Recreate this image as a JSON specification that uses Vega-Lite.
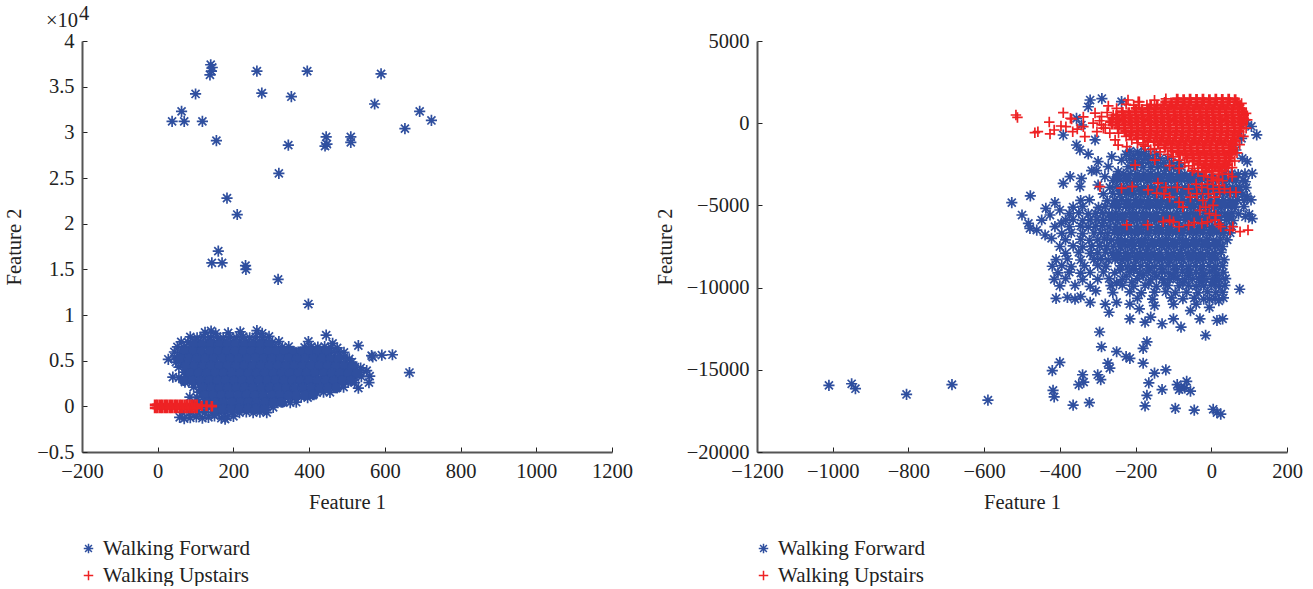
{"$schema":"https://vega.github.io/schema/vega-lite/v6.json","padding":{"left":4,"top":4,"right":0,"bottom":0},"background":"white","spacing":22,
"config":{"view":{"stroke":null},"font":"Liberation Serif","axis":{"grid":false,"labelFlush":false,"domainColor":"#555555","domainWidth":2,"tickColor":"#222222","tickWidth":1,"tickSize":-5,"labelFont":"Liberation Serif","labelFontSize":20.5,"labelColor":"#222222","titleFont":"Liberation Serif","titleFontSize":20.5,"titleFontWeight":"normal","titleColor":"#222222"},"legend":{"orient":"none","title":null,"labelFont":"Liberation Serif","labelFontSize":21,"labelColor":"#222222","symbolStrokeWidth":1.5,"symbolSize":90,"rowPadding":5,"labelOffset":4}},
"resolve":{"scale":{"color":"independent","shape":"independent"}},
"datasets":{
"lb":[{"x":38,"y":31200},{"x":63,"y":32300},{"x":70,"y":31200},{"x":100,"y":34200},{"x":118,"y":31200},{"x":138,"y":36300},{"x":142,"y":36700},{"x":140,"y":37400},{"x":144,"y":37100},{"x":155,"y":29100},{"x":262,"y":36700},{"x":275,"y":34300},{"x":353,"y":33900},{"x":395,"y":36700},{"x":345,"y":28600},{"x":445,"y":29500},{"x":442,"y":28500},{"x":447,"y":28700},{"x":510,"y":29500},{"x":510,"y":28900},{"x":573,"y":33100},{"x":590,"y":36400},{"x":653,"y":30400},{"x":692,"y":32300},{"x":723,"y":31300},{"x":320,"y":25500},{"x":183,"y":22800},{"x":210,"y":21000},{"x":160,"y":17000},{"x":143,"y":15700},{"x":170,"y":15700},{"x":232,"y":15400},{"x":233,"y":15000},{"x":318,"y":13900},{"x":398,"y":11200},{"x":665,"y":3700},{"x":620,"y":5650},{"x":592,"y":5600},{"x":565,"y":5550},{"x":568,"y":5400},{"x":530,"y":6650},{"x":445,"y":7800},{"x":560,"y":3300},{"x":552,"y":3900},{"x":558,"y":2600},{"x":530,"y":2000},
{"x":125,"y":8100},{"x":141,"y":8250},{"x":153,"y":8000},{"x":218,"y":8150},{"x":262,"y":8300},{"x":276,"y":8000},{"x":186,"y":8050},
{"x":86,"y":7600},{"x":104,"y":7500},{"x":121,"y":7650},{"x":139,"y":7550},{"x":157,"y":7620},{"x":173,"y":7500},{"x":191,"y":7600},{"x":208,"y":7520},{"x":226,"y":7640},{"x":243,"y":7510},{"x":259,"y":7600},{"x":277,"y":7550},{"x":294,"y":7650},
{"x":62,"y":7050},{"x":80,"y":7000},{"x":96,"y":7100},{"x":113,"y":7020},{"x":131,"y":7090},{"x":148,"y":7000},{"x":165,"y":7060},{"x":182,"y":7100},{"x":200,"y":7000},{"x":217,"y":7080},{"x":234,"y":7020},{"x":252,"y":7100},{"x":269,"y":7000},{"x":286,"y":7070},{"x":303,"y":7010},{"x":320,"y":7100},{"x":398,"y":7100},{"x":462,"y":6900},
{"x":52,"y":6500},{"x":70,"y":6450},{"x":88,"y":6550},{"x":105,"y":6480},{"x":122,"y":6530},{"x":139,"y":6450},{"x":156,"y":6560},{"x":174,"y":6500},{"x":191,"y":6470},{"x":208,"y":6540},{"x":225,"y":6450},{"x":243,"y":6530},{"x":260,"y":6490},{"x":277,"y":6560},{"x":294,"y":6450},{"x":311,"y":6520},{"x":329,"y":6480},{"x":346,"y":6550},{"x":388,"y":6450},{"x":406,"y":6540},{"x":423,"y":6480},{"x":441,"y":6550},{"x":458,"y":6450},{"x":474,"y":6400},
{"x":44,"y":5950},{"x":61,"y":5900},{"x":79,"y":6000},{"x":96,"y":5930},{"x":113,"y":5980},{"x":130,"y":5900},{"x":148,"y":5990},{"x":165,"y":5940},{"x":182,"y":5910},{"x":199,"y":5980},{"x":216,"y":5900},{"x":234,"y":5970},{"x":251,"y":5930},{"x":268,"y":6000},{"x":285,"y":5900},{"x":302,"y":5960},{"x":320,"y":5920},{"x":337,"y":5990},{"x":354,"y":5900},{"x":371,"y":5950},{"x":388,"y":5920},{"x":406,"y":5990},{"x":423,"y":5900},{"x":440,"y":5960},{"x":458,"y":5930},{"x":475,"y":5980},{"x":492,"y":5900},
{"x":28,"y":5150},{"x":44,"y":5400},{"x":62,"y":5350},{"x":79,"y":5450},{"x":96,"y":5380},{"x":113,"y":5430},{"x":131,"y":5350},{"x":148,"y":5440},{"x":165,"y":5390},{"x":182,"y":5360},{"x":200,"y":5430},{"x":217,"y":5350},{"x":234,"y":5420},{"x":251,"y":5380},{"x":268,"y":5450},{"x":286,"y":5350},{"x":303,"y":5410},{"x":320,"y":5370},{"x":337,"y":5440},{"x":354,"y":5350},{"x":372,"y":5400},{"x":389,"y":5370},{"x":406,"y":5440},{"x":423,"y":5350},{"x":440,"y":5410},{"x":458,"y":5380},{"x":475,"y":5430},{"x":492,"y":5350},{"x":506,"y":5200},
{"x":48,"y":4850},{"x":66,"y":4800},{"x":83,"y":4900},{"x":100,"y":4830},{"x":118,"y":4880},{"x":135,"y":4800},{"x":152,"y":4890},{"x":169,"y":4840},{"x":186,"y":4810},{"x":204,"y":4880},{"x":221,"y":4800},{"x":238,"y":4870},{"x":255,"y":4830},{"x":272,"y":4900},{"x":290,"y":4800},{"x":307,"y":4860},{"x":324,"y":4820},{"x":341,"y":4890},{"x":358,"y":4800},{"x":376,"y":4850},{"x":393,"y":4820},{"x":410,"y":4890},{"x":427,"y":4800},{"x":444,"y":4860},{"x":462,"y":4830},{"x":479,"y":4880},{"x":496,"y":4800},{"x":513,"y":4850},
{"x":56,"y":4300},{"x":74,"y":4250},{"x":91,"y":4350},{"x":108,"y":4280},{"x":126,"y":4330},{"x":143,"y":4250},{"x":160,"y":4340},{"x":177,"y":4290},{"x":194,"y":4260},{"x":212,"y":4330},{"x":229,"y":4250},{"x":246,"y":4320},{"x":263,"y":4280},{"x":280,"y":4350},{"x":298,"y":4250},{"x":315,"y":4310},{"x":332,"y":4270},{"x":349,"y":4340},{"x":366,"y":4250},{"x":384,"y":4300},{"x":401,"y":4270},{"x":418,"y":4340},{"x":435,"y":4250},{"x":452,"y":4310},{"x":470,"y":4280},{"x":487,"y":4330},{"x":504,"y":4250},{"x":521,"y":4300},{"x":536,"y":4200},
{"x":70,"y":3750},{"x":88,"y":3700},{"x":105,"y":3800},{"x":122,"y":3730},{"x":140,"y":3780},{"x":157,"y":3700},{"x":174,"y":3790},{"x":191,"y":3740},{"x":208,"y":3710},{"x":226,"y":3780},{"x":243,"y":3700},{"x":260,"y":3770},{"x":277,"y":3730},{"x":294,"y":3800},{"x":312,"y":3700},{"x":329,"y":3760},{"x":346,"y":3720},{"x":363,"y":3790},{"x":380,"y":3700},{"x":398,"y":3750},{"x":415,"y":3720},{"x":432,"y":3790},{"x":449,"y":3700},{"x":466,"y":3760},{"x":484,"y":3730},{"x":501,"y":3780},{"x":518,"y":3700},{"x":535,"y":3750},
{"x":40,"y":3200},{"x":56,"y":3150},{"x":74,"y":3250},{"x":91,"y":3180},{"x":109,"y":3230},{"x":126,"y":3150},{"x":143,"y":3240},{"x":160,"y":3190},{"x":177,"y":3160},{"x":195,"y":3230},{"x":212,"y":3150},{"x":229,"y":3220},{"x":246,"y":3180},{"x":263,"y":3250},{"x":281,"y":3150},{"x":298,"y":3210},{"x":315,"y":3170},{"x":332,"y":3240},{"x":349,"y":3150},{"x":367,"y":3200},{"x":384,"y":3170},{"x":401,"y":3240},{"x":418,"y":3150},{"x":435,"y":3210},{"x":453,"y":3180},{"x":470,"y":3230},{"x":487,"y":3150},{"x":504,"y":3200},{"x":521,"y":3170},{"x":538,"y":3240},
{"x":72,"y":2650},{"x":90,"y":2600},{"x":107,"y":2700},{"x":124,"y":2630},{"x":142,"y":2680},{"x":159,"y":2600},{"x":176,"y":2690},{"x":193,"y":2640},{"x":210,"y":2610},{"x":228,"y":2680},{"x":245,"y":2600},{"x":262,"y":2670},{"x":279,"y":2630},{"x":296,"y":2700},{"x":314,"y":2600},{"x":331,"y":2660},{"x":348,"y":2620},{"x":365,"y":2690},{"x":382,"y":2600},{"x":400,"y":2650},{"x":417,"y":2620},{"x":434,"y":2690},{"x":451,"y":2600},{"x":468,"y":2660},{"x":486,"y":2630},{"x":503,"y":2680},{"x":520,"y":2600},
{"x":95,"y":2100},{"x":112,"y":2050},{"x":130,"y":2150},{"x":147,"y":2080},{"x":164,"y":2130},{"x":181,"y":2050},{"x":198,"y":2140},{"x":216,"y":2090},{"x":233,"y":2060},{"x":250,"y":2130},{"x":267,"y":2050},{"x":284,"y":2120},{"x":302,"y":2080},{"x":319,"y":2150},{"x":336,"y":2050},{"x":353,"y":2110},{"x":370,"y":2070},{"x":388,"y":2140},{"x":405,"y":2050},{"x":422,"y":2100},{"x":439,"y":2070},{"x":456,"y":2140},{"x":474,"y":2050},{"x":491,"y":2110},
{"x":110,"y":1550},{"x":128,"y":1500},{"x":145,"y":1600},{"x":162,"y":1530},{"x":180,"y":1580},{"x":197,"y":1500},{"x":214,"y":1590},{"x":231,"y":1540},{"x":248,"y":1510},{"x":266,"y":1580},{"x":283,"y":1500},{"x":300,"y":1570},{"x":317,"y":1530},{"x":334,"y":1600},{"x":352,"y":1500},{"x":369,"y":1560},{"x":386,"y":1520},{"x":403,"y":1590},{"x":420,"y":1500},{"x":438,"y":1550},{"x":455,"y":1520},
{"x":85,"y":1000},{"x":104,"y":950},{"x":121,"y":1050},{"x":138,"y":980},{"x":156,"y":1030},{"x":173,"y":950},{"x":190,"y":1040},{"x":207,"y":990},{"x":224,"y":960},{"x":242,"y":1030},{"x":259,"y":950},{"x":276,"y":1020},{"x":293,"y":980},{"x":310,"y":1050},{"x":328,"y":950},{"x":345,"y":1010},{"x":362,"y":970},{"x":379,"y":1040},{"x":396,"y":950},
{"x":108,"y":450},{"x":126,"y":400},{"x":143,"y":500},{"x":160,"y":430},{"x":178,"y":480},{"x":195,"y":400},{"x":212,"y":490},{"x":229,"y":440},{"x":246,"y":410},{"x":264,"y":480},{"x":281,"y":400},{"x":298,"y":470},{"x":315,"y":430},{"x":332,"y":500},{"x":350,"y":400},{"x":366,"y":450},
{"x":100,"y":-100},{"x":116,"y":-150},{"x":133,"y":-50},{"x":150,"y":-120},{"x":168,"y":-70},{"x":185,"y":-150},{"x":202,"y":-60},{"x":219,"y":-110},{"x":236,"y":-140},{"x":254,"y":-70},{"x":271,"y":-150},{"x":288,"y":-80},{"x":305,"y":-120},
{"x":65,"y":-650},{"x":85,"y":-700},{"x":105,"y":-600},{"x":125,"y":-680},{"x":144,"y":-620},{"x":162,"y":-700},{"x":180,"y":-610},{"x":198,"y":-660},{"x":216,"y":-690},{"x":234,"y":-620},{"x":252,"y":-700},{"x":270,"y":-630},{"x":288,"y":-680},
{"x":58,"y":-1200},{"x":70,"y":-1350},{"x":86,"y":-1250},{"x":102,"y":-1150},{"x":118,"y":-1300},{"x":134,"y":-1200},{"x":150,"y":-1050},{"x":168,"y":-1300},{"x":184,"y":-1150},{"x":178,"y":-1400},{"x":200,"y":-1100}],
"lbc":[{"x":95,"y":6800},{"x":118,"y":6780},{"x":140,"y":6820},{"x":162,"y":6800},{"x":184,"y":6790},{"x":206,"y":6820},{"x":228,"y":6800},{"x":250,"y":6780},{"x":272,"y":6810},{"x":294,"y":6800},
{"x":72,"y":6000},{"x":94,"y":6020},{"x":116,"y":5990},{"x":138,"y":6010},{"x":160,"y":6000},{"x":182,"y":6030},{"x":204,"y":5990},{"x":226,"y":6010},{"x":248,"y":6000},{"x":270,"y":6020},{"x":292,"y":5990},{"x":314,"y":6010},{"x":336,"y":6000},{"x":358,"y":6030},{"x":380,"y":5990},{"x":402,"y":6010},{"x":424,"y":6000},{"x":446,"y":6020},
{"x":60,"y":5200},{"x":82,"y":5220},{"x":104,"y":5190},{"x":126,"y":5210},{"x":148,"y":5200},{"x":170,"y":5230},{"x":192,"y":5190},{"x":214,"y":5210},{"x":236,"y":5200},{"x":258,"y":5220},{"x":280,"y":5190},{"x":302,"y":5210},{"x":324,"y":5200},{"x":346,"y":5230},{"x":368,"y":5190},{"x":390,"y":5210},{"x":412,"y":5200},{"x":434,"y":5220},{"x":456,"y":5190},{"x":478,"y":5210},
{"x":75,"y":4400},{"x":97,"y":4420},{"x":119,"y":4390},{"x":141,"y":4410},{"x":163,"y":4400},{"x":185,"y":4430},{"x":207,"y":4390},{"x":229,"y":4410},{"x":251,"y":4400},{"x":273,"y":4420},{"x":295,"y":4390},{"x":317,"y":4410},{"x":339,"y":4400},{"x":361,"y":4430},{"x":383,"y":4390},{"x":405,"y":4410},{"x":427,"y":4400},{"x":449,"y":4420},{"x":471,"y":4390},{"x":493,"y":4410},{"x":515,"y":4400},
{"x":86,"y":3600},{"x":108,"y":3620},{"x":130,"y":3590},{"x":152,"y":3610},{"x":174,"y":3600},{"x":196,"y":3630},{"x":218,"y":3590},{"x":240,"y":3610},{"x":262,"y":3600},{"x":284,"y":3620},{"x":306,"y":3590},{"x":328,"y":3610},{"x":350,"y":3600},{"x":372,"y":3630},{"x":394,"y":3590},{"x":416,"y":3610},{"x":438,"y":3600},{"x":460,"y":3620},{"x":482,"y":3590},{"x":504,"y":3610},{"x":526,"y":3600},
{"x":70,"y":2800},{"x":92,"y":2820},{"x":114,"y":2790},{"x":136,"y":2810},{"x":158,"y":2800},{"x":180,"y":2830},{"x":202,"y":2790},{"x":224,"y":2810},{"x":246,"y":2800},{"x":268,"y":2820},{"x":290,"y":2790},{"x":312,"y":2810},{"x":334,"y":2800},{"x":356,"y":2830},{"x":378,"y":2790},{"x":400,"y":2810},{"x":422,"y":2800},{"x":444,"y":2820},{"x":466,"y":2790},{"x":488,"y":2810},{"x":510,"y":2800},
{"x":120,"y":2000},{"x":142,"y":2020},{"x":164,"y":1990},{"x":186,"y":2010},{"x":208,"y":2000},{"x":230,"y":2030},{"x":252,"y":1990},{"x":274,"y":2010},{"x":296,"y":2000},{"x":318,"y":2020},{"x":340,"y":1990},{"x":362,"y":2010},{"x":384,"y":2000},{"x":406,"y":2030},{"x":428,"y":1990},{"x":450,"y":2010},{"x":472,"y":2000},
{"x":125,"y":1200},{"x":147,"y":1220},{"x":169,"y":1190},{"x":191,"y":1210},{"x":213,"y":1200},{"x":235,"y":1230},{"x":257,"y":1190},{"x":279,"y":1210},{"x":301,"y":1200},{"x":323,"y":1220},{"x":345,"y":1190},{"x":367,"y":1210},{"x":389,"y":1200},{"x":411,"y":1230},
{"x":130,"y":400},{"x":152,"y":420},{"x":174,"y":390},{"x":196,"y":410},{"x":218,"y":400},{"x":240,"y":430},{"x":262,"y":390},{"x":284,"y":410},{"x":306,"y":400},{"x":328,"y":420},
{"x":150,"y":-300},{"x":172,"y":-280},{"x":194,"y":-310},{"x":216,"y":-290},{"x":238,"y":-300},{"x":260,"y":-270},{"x":282,"y":-310}],
"lr":[{"x":-7,"y":170},{"x":-1,"y":170},{"x":6,"y":170},{"x":12,"y":170},{"x":19,"y":170},{"x":25,"y":170},{"x":32,"y":170},{"x":38,"y":170},{"x":45,"y":170},{"x":51,"y":170},{"x":58,"y":170},{"x":64,"y":170},{"x":71,"y":170},{"x":77,"y":170},{"x":84,"y":170},{"x":90,"y":170},{"x":97,"y":170},{"x":103,"y":170},{"x":-7,"y":-170},{"x":-1,"y":-170},{"x":6,"y":-170},{"x":12,"y":-170},{"x":19,"y":-170},{"x":25,"y":-170},{"x":32,"y":-170},{"x":38,"y":-170},{"x":45,"y":-170},{"x":51,"y":-170},{"x":58,"y":-170},{"x":64,"y":-170},{"x":71,"y":-170},{"x":77,"y":-170},{"x":84,"y":-170},{"x":90,"y":-170},{"x":97,"y":-170},{"x":103,"y":-170},{"x":116,"y":50},{"x":129,"y":60},{"x":143,"y":20}],
"rb":[{"x":-1010,"y":-15950},{"x":-950,"y":-15850},{"x":-940,"y":-16150},{"x":-805,"y":-16500},{"x":-685,"y":-15900},{"x":-590,"y":-16850},{"x":-420,"y":-15050},{"x":-400,"y":-14550},{"x":-418,"y":-16250},{"x":-415,"y":-16650},{"x":-365,"y":-17150},{"x":-322,"y":-17000},{"x":-350,"y":-15900},{"x":-337,"y":-15750},{"x":-340,"y":-15300},{"x":-292,"y":-15600},{"x":-300,"y":-15300},{"x":-268,"y":-14900},{"x":-273,"y":-14600},{"x":-250,"y":-13900},{"x":-225,"y":-14200},{"x":-215,"y":-14300},{"x":-180,"y":-13700},{"x":-170,"y":-13300},{"x":-180,"y":-14600},{"x":-150,"y":-15200},{"x":-120,"y":-15000},{"x":-165,"y":-15800},{"x":-130,"y":-16200},{"x":-170,"y":-16550},{"x":-175,"y":-17200},{"x":-90,"y":-15900},{"x":-80,"y":-16100},{"x":-70,"y":-16100},{"x":-65,"y":-15700},{"x":-85,"y":-16200},{"x":-55,"y":-16300},{"x":-95,"y":-17350},{"x":-45,"y":-17450},{"x":5,"y":-17400},{"x":15,"y":-17600},{"x":25,"y":-17700},{"x":-15,"y":-12900},{"x":-295,"y":-12700},{"x":-290,"y":-13600},{"x":-215,"y":-11900},{"x":-130,"y":-12200},{"x":-160,"y":-11800},{"x":-175,"y":-12100},{"x":-100,"y":-11900},{"x":-80,"y":-12400},{"x":-30,"y":-11900},{"x":15,"y":-12000},{"x":30,"y":-11900},{"x":-320,"y":-10900},{"x":-280,"y":-11000},{"x":-250,"y":-10900},{"x":-270,"y":-11500},{"x":-215,"y":-11000},{"x":-150,"y":-11100},{"x":-190,"y":-11300},{"x":-100,"y":-11000},{"x":-55,"y":-11400},{"x":-40,"y":-11000},{"x":-5,"y":-11200},{"x":20,"y":-10800},{"x":-5,"y":-10700},{"x":75,"y":-10100},{"x":-380,"y":-10600},{"x":-360,"y":-10700},{"x":-345,"y":-10550},{"x":-305,"y":-10200},{"x":-410,"y":-10650},
{"x":-320,"y":1410},{"x":-289,"y":1500},{"x":-325,"y":1000},{"x":-237,"y":1310},{"x":-356,"y":295},{"x":-391,"y":-717},{"x":-343,"y":-110},{"x":-307,"y":-1020},{"x":-356,"y":-1325},{"x":-347,"y":-1630},{"x":-325,"y":-1875},{"x":-299,"y":-2340},{"x":-263,"y":-2035},{"x":-237,"y":-2240},{"x":-272,"y":-2640},{"x":-316,"y":-2885},{"x":-303,"y":-2885},{"x":-246,"y":-2950},{"x":-281,"y":-3255},{"x":-391,"y":-3660},{"x":-373,"y":-3255},{"x":-343,"y":-3355},{"x":-347,"y":-3860},{"x":-299,"y":-3760},{"x":-527,"y":-4830},{"x":-478,"y":-4425},{"x":-500,"y":-5585},{"x":-437,"y":-5175},{"x":-413,"y":-4830},{"x":-426,"y":-5585},{"x":-400,"y":-5280},{"x":-483,"y":-6090},{"x":-479,"y":-6395},{"x":-461,"y":-6500},{"x":-448,"y":-5890},{"x":-439,"y":-6800},{"x":-422,"y":-7000},{"x":-413,"y":-6290},{"x":-396,"y":-6090},{"x":93,"y":0},{"x":120,"y":-710},{"x":106,"y":-200},{"x":80,"y":-920},{"x":65,"y":-1630},{"x":82,"y":-2135},{"x":95,"y":-2340},{"x":108,"y":-3050},{"x":90,"y":-3560},{"x":95,"y":-4470},{"x":90,"y":-5690},{"x":86,"y":-5080},{"x":108,"y":-5800},{"x":100,"y":-5550},
{"x":-215,"y":-1700},{"x":-195,"y":-1750},{"x":-175,"y":-1720},{"x":-225,"y":-1900},{"x":-205,"y":-1950},{"x":-185,"y":-1880},{"x":-165,"y":-1950},{"x":-145,"y":-1900},{"x":-215,"y":-2150},{"x":-195,"y":-2200},{"x":-175,"y":-2130},{"x":-155,"y":-2180},{"x":-135,"y":-2150},{"x":-115,"y":-2130},{"x":-205,"y":-2400},{"x":-185,"y":-2430},{"x":-165,"y":-2380},{"x":-145,"y":-2420},{"x":-125,"y":-2400},{"x":-105,"y":-2380},{"x":-85,"y":-2430},
{"x":-240,"y":-8920},{"x":-205,"y":-8890},{"x":-165,"y":-8930},{"x":-130,"y":-8880},{"x":-95,"y":-8910},{"x":-60,"y":-8890},{"x":-25,"y":-8930},{"x":8,"y":-8890},{"x":-225,"y":-9300},{"x":-180,"y":-9280},{"x":-145,"y":-9320},{"x":-100,"y":-9300},{"x":-60,"y":-9270},{"x":-22,"y":-9310},{"x":14,"y":-9290},{"x":-250,"y":-9700},{"x":-210,"y":-9680},{"x":-165,"y":-9720},{"x":-125,"y":-9690},{"x":-75,"y":-9700},{"x":-30,"y":-9680},{"x":10,"y":-9710},
{"x":-160,"y":-2700},{"x":-140,"y":-2650},{"x":-120,"y":-2720},{"x":-100,"y":-2680},{"x":-80,"y":-2650},{"x":-200,"y":-2700},{"x":-220,"y":-2650},{"x":-180,"y":-2680},
{"x":-232,"y":-3100},{"x":-214,"y":-3060},{"x":-196,"y":-3120},{"x":-178,"y":-3080},{"x":-160,"y":-3050},{"x":-142,"y":-3110},{"x":-124,"y":-3070},{"x":-106,"y":-3120},{"x":-88,"y":-3060},{"x":-70,"y":-3100},{"x":-52,"y":-3060},{"x":-34,"y":-3120},{"x":35,"y":-3100},{"x":53,"y":-3060},{"x":71,"y":-3120},{"x":89,"y":-3080},
{"x":-260,"y":-3500},{"x":-240,"y":-3460},{"x":-222,"y":-3520},{"x":-204,"y":-3480},{"x":-186,"y":-3450},{"x":-168,"y":-3510},{"x":-150,"y":-3470},{"x":-132,"y":-3520},{"x":-114,"y":-3460},{"x":-96,"y":-3500},{"x":-78,"y":-3460},{"x":-60,"y":-3520},{"x":-42,"y":-3480},{"x":-24,"y":-3450},{"x":-6,"y":-3510},{"x":12,"y":-3470},{"x":30,"y":-3520},{"x":48,"y":-3460},{"x":66,"y":-3500},{"x":84,"y":-3470},
{"x":-268,"y":-3900},{"x":-250,"y":-3860},{"x":-232,"y":-3920},{"x":-214,"y":-3880},{"x":-196,"y":-3850},{"x":-178,"y":-3910},{"x":-160,"y":-3870},{"x":-142,"y":-3920},{"x":-124,"y":-3860},{"x":-106,"y":-3900},{"x":-88,"y":-3860},{"x":-70,"y":-3920},{"x":-52,"y":-3880},{"x":-34,"y":-3850},{"x":-16,"y":-3910},{"x":2,"y":-3870},{"x":20,"y":-3920},{"x":38,"y":-3860},{"x":56,"y":-3900},{"x":74,"y":-3870},{"x":92,"y":-3920},
{"x":-285,"y":-4300},{"x":-260,"y":-4260},{"x":-241,"y":-4320},{"x":-223,"y":-4280},{"x":-205,"y":-4250},{"x":-187,"y":-4310},{"x":-169,"y":-4270},{"x":-151,"y":-4320},{"x":-133,"y":-4260},{"x":-115,"y":-4300},{"x":-97,"y":-4260},{"x":-79,"y":-4320},{"x":-61,"y":-4280},{"x":-43,"y":-4250},{"x":-25,"y":-4310},{"x":-7,"y":-4270},{"x":11,"y":-4320},{"x":29,"y":-4260},{"x":47,"y":-4300},{"x":65,"y":-4270},{"x":83,"y":-4320},
{"x":-345,"y":-4700},{"x":-322,"y":-4660},{"x":-275,"y":-4720},{"x":-255,"y":-4680},{"x":-237,"y":-4650},{"x":-219,"y":-4710},{"x":-201,"y":-4670},{"x":-183,"y":-4720},{"x":-165,"y":-4660},{"x":-147,"y":-4700},{"x":-129,"y":-4660},{"x":-111,"y":-4720},{"x":-93,"y":-4680},{"x":-75,"y":-4650},{"x":-57,"y":-4710},{"x":-39,"y":-4670},{"x":-21,"y":-4720},{"x":-3,"y":-4660},{"x":15,"y":-4700},{"x":33,"y":-4670},{"x":51,"y":-4720},{"x":69,"y":-4660},{"x":87,"y":-4700},{"x":105,"y":-4670},
{"x":-365,"y":-5100},{"x":-340,"y":-5060},{"x":-298,"y":-5120},{"x":-280,"y":-5080},{"x":-262,"y":-5050},{"x":-244,"y":-5110},{"x":-226,"y":-5070},{"x":-208,"y":-5120},{"x":-190,"y":-5060},{"x":-172,"y":-5100},{"x":-154,"y":-5060},{"x":-136,"y":-5120},{"x":-118,"y":-5080},{"x":-100,"y":-5050},{"x":-82,"y":-5110},{"x":-64,"y":-5070},{"x":-46,"y":-5120},{"x":-28,"y":-5060},{"x":-10,"y":-5100},{"x":8,"y":-5070},{"x":26,"y":-5120},{"x":44,"y":-5060},{"x":62,"y":-5100},
{"x":-375,"y":-5500},{"x":-350,"y":-5460},{"x":-325,"y":-5520},{"x":-306,"y":-5480},{"x":-288,"y":-5450},{"x":-270,"y":-5510},{"x":-252,"y":-5470},{"x":-234,"y":-5520},{"x":-216,"y":-5460},{"x":-198,"y":-5500},{"x":-180,"y":-5460},{"x":-162,"y":-5520},{"x":-144,"y":-5480},{"x":-126,"y":-5450},{"x":-108,"y":-5510},{"x":-90,"y":-5470},{"x":-72,"y":-5520},{"x":-54,"y":-5460},{"x":-36,"y":-5500},{"x":-18,"y":-5470},{"x":0,"y":-5520},{"x":18,"y":-5460},{"x":36,"y":-5500},{"x":54,"y":-5470},{"x":72,"y":-5520},
{"x":-385,"y":-5900},{"x":-365,"y":-5860},{"x":-340,"y":-5920},{"x":-320,"y":-5880},{"x":-302,"y":-5850},{"x":-284,"y":-5910},{"x":-266,"y":-5870},{"x":-248,"y":-5920},{"x":-230,"y":-5860},{"x":-212,"y":-5900},{"x":-194,"y":-5860},{"x":-176,"y":-5920},{"x":-158,"y":-5880},{"x":-140,"y":-5850},{"x":-122,"y":-5910},{"x":-104,"y":-5870},{"x":-86,"y":-5920},{"x":-68,"y":-5860},{"x":-50,"y":-5900},{"x":-32,"y":-5870},{"x":-14,"y":-5920},{"x":4,"y":-5860},{"x":22,"y":-5900},{"x":40,"y":-5870},{"x":58,"y":-5920},
{"x":-375,"y":-6300},{"x":-345,"y":-6260},{"x":-325,"y":-6320},{"x":-306,"y":-6280},{"x":-288,"y":-6250},{"x":-270,"y":-6310},{"x":-252,"y":-6270},{"x":-234,"y":-6320},{"x":-216,"y":-6260},{"x":-198,"y":-6300},{"x":-180,"y":-6260},{"x":-162,"y":-6320},{"x":-144,"y":-6280},{"x":-126,"y":-6250},{"x":-108,"y":-6310},{"x":-90,"y":-6270},{"x":-72,"y":-6320},{"x":-54,"y":-6260},{"x":-36,"y":-6300},{"x":-18,"y":-6270},{"x":0,"y":-6320},{"x":18,"y":-6260},{"x":36,"y":-6300},{"x":54,"y":-6270},
{"x":-395,"y":-6700},{"x":-370,"y":-6660},{"x":-340,"y":-6720},{"x":-310,"y":-6680},{"x":-292,"y":-6650},{"x":-274,"y":-6710},{"x":-256,"y":-6670},{"x":-238,"y":-6720},{"x":-220,"y":-6660},{"x":-202,"y":-6700},{"x":-184,"y":-6660},{"x":-166,"y":-6720},{"x":-148,"y":-6680},{"x":-130,"y":-6650},{"x":-112,"y":-6710},{"x":-94,"y":-6670},{"x":-76,"y":-6720},{"x":-58,"y":-6660},{"x":-40,"y":-6700},{"x":-22,"y":-6670},{"x":-4,"y":-6720},{"x":14,"y":-6660},{"x":32,"y":-6700},{"x":50,"y":-6670},
{"x":-385,"y":-7100},{"x":-345,"y":-7060},{"x":-322,"y":-7120},{"x":-300,"y":-7080},{"x":-282,"y":-7050},{"x":-264,"y":-7110},{"x":-246,"y":-7070},{"x":-228,"y":-7120},{"x":-210,"y":-7060},{"x":-192,"y":-7100},{"x":-174,"y":-7060},{"x":-156,"y":-7120},{"x":-138,"y":-7080},{"x":-120,"y":-7050},{"x":-102,"y":-7110},{"x":-84,"y":-7070},{"x":-66,"y":-7120},{"x":-48,"y":-7060},{"x":-30,"y":-7100},{"x":-12,"y":-7070},{"x":6,"y":-7120},{"x":24,"y":-7060},{"x":42,"y":-7100},
{"x":-400,"y":-7500},{"x":-365,"y":-7460},{"x":-340,"y":-7520},{"x":-316,"y":-7480},{"x":-295,"y":-7450},{"x":-276,"y":-7510},{"x":-258,"y":-7470},{"x":-240,"y":-7520},{"x":-222,"y":-7460},{"x":-204,"y":-7500},{"x":-186,"y":-7460},{"x":-168,"y":-7520},{"x":-150,"y":-7480},{"x":-132,"y":-7450},{"x":-114,"y":-7510},{"x":-96,"y":-7470},{"x":-78,"y":-7520},{"x":-60,"y":-7460},{"x":-42,"y":-7500},{"x":-24,"y":-7470},{"x":-6,"y":-7520},{"x":12,"y":-7460},{"x":30,"y":-7500},
{"x":-385,"y":-7900},{"x":-350,"y":-7860},{"x":-320,"y":-7920},{"x":-300,"y":-7880},{"x":-280,"y":-7850},{"x":-262,"y":-7910},{"x":-244,"y":-7870},{"x":-226,"y":-7920},{"x":-208,"y":-7860},{"x":-190,"y":-7900},{"x":-172,"y":-7860},{"x":-154,"y":-7920},{"x":-136,"y":-7880},{"x":-118,"y":-7850},{"x":-100,"y":-7910},{"x":-82,"y":-7870},{"x":-64,"y":-7920},{"x":-46,"y":-7860},{"x":-28,"y":-7900},{"x":-10,"y":-7870},{"x":8,"y":-7920},{"x":26,"y":-7860},
{"x":-410,"y":-8300},{"x":-380,"y":-8260},{"x":-345,"y":-8320},{"x":-310,"y":-8280},{"x":-292,"y":-8250},{"x":-272,"y":-8310},{"x":-254,"y":-8270},{"x":-236,"y":-8320},{"x":-218,"y":-8260},{"x":-200,"y":-8300},{"x":-182,"y":-8260},{"x":-164,"y":-8320},{"x":-146,"y":-8280},{"x":-128,"y":-8250},{"x":-110,"y":-8310},{"x":-92,"y":-8270},{"x":-74,"y":-8320},{"x":-56,"y":-8260},{"x":-38,"y":-8300},{"x":-20,"y":-8270},{"x":-2,"y":-8320},{"x":16,"y":-8260},{"x":34,"y":-8300},
{"x":-420,"y":-8700},{"x":-395,"y":-8660},{"x":-370,"y":-8720},{"x":-335,"y":-8680},{"x":-300,"y":-8650},{"x":-278,"y":-8710},{"x":-240,"y":-8670},{"x":-222,"y":-8720},{"x":-204,"y":-8660},{"x":-186,"y":-8700},{"x":-168,"y":-8660},{"x":-150,"y":-8720},{"x":-132,"y":-8680},{"x":-114,"y":-8650},{"x":-96,"y":-8710},{"x":-78,"y":-8670},{"x":-60,"y":-8720},{"x":-42,"y":-8660},{"x":-24,"y":-8700},{"x":-6,"y":-8670},{"x":12,"y":-8720},{"x":30,"y":-8660},
{"x":-405,"y":-9100},{"x":-375,"y":-9060},{"x":-345,"y":-9120},{"x":-320,"y":-9080},{"x":-285,"y":-9050},{"x":-255,"y":-9110},{"x":-215,"y":-9070},{"x":-190,"y":-9120},{"x":-170,"y":-9060},{"x":-150,"y":-9100},{"x":-130,"y":-9060},{"x":-112,"y":-9120},{"x":-94,"y":-9080},{"x":-76,"y":-9050},{"x":-58,"y":-9110},{"x":-40,"y":-9070},{"x":-22,"y":-9120},{"x":-4,"y":-9060},{"x":14,"y":-9100},{"x":32,"y":-9070},
{"x":-415,"y":-9500},{"x":-385,"y":-9460},{"x":-340,"y":-9520},{"x":-300,"y":-9480},{"x":-270,"y":-9450},{"x":-235,"y":-9510},{"x":-195,"y":-9470},{"x":-160,"y":-9520},{"x":-130,"y":-9460},{"x":-110,"y":-9500},{"x":-90,"y":-9460},{"x":-70,"y":-9520},{"x":-50,"y":-9480},{"x":-32,"y":-9450},{"x":-14,"y":-9510},{"x":4,"y":-9470},{"x":22,"y":-9520},{"x":38,"y":-9460},
{"x":-400,"y":-9900},{"x":-360,"y":-9860},{"x":-320,"y":-9920},{"x":-265,"y":-9880},{"x":-235,"y":-9850},{"x":-205,"y":-9910},{"x":-175,"y":-9870},{"x":-145,"y":-9920},{"x":-115,"y":-9860},{"x":-85,"y":-9900},{"x":-60,"y":-9860},{"x":-40,"y":-9920},{"x":-20,"y":-9880},{"x":0,"y":-9850},{"x":20,"y":-9910},{"x":36,"y":-9870},
{"x":-260,"y":-10300},{"x":-215,"y":-10260},{"x":-185,"y":-10320},{"x":-150,"y":-10280},{"x":-120,"y":-10250},{"x":-95,"y":-10310},{"x":-65,"y":-10270},{"x":-35,"y":-10320},{"x":-10,"y":-10260},{"x":12,"y":-10300},{"x":30,"y":-10280},
{"x":-195,"y":-10650},{"x":-155,"y":-10700},{"x":-105,"y":-10620},{"x":-75,"y":-10680},{"x":-45,"y":-10640},{"x":-20,"y":-10700},{"x":10,"y":-10650},{"x":32,"y":-10620}],
"rbc":[{"x":-250,"y":-3300},{"x":-222,"y":-3320},{"x":-194,"y":-3290},{"x":-166,"y":-3310},{"x":-138,"y":-3300},{"x":-110,"y":-3330},{"x":-82,"y":-3290},{"x":-54,"y":-3310},{"x":-26,"y":-3300},{"x":2,"y":-3320},{"x":30,"y":-3290},{"x":58,"y":-3310},
{"x":-238,"y":-4100},{"x":-210,"y":-4120},{"x":-182,"y":-4090},{"x":-154,"y":-4110},{"x":-126,"y":-4100},{"x":-98,"y":-4130},{"x":-70,"y":-4090},{"x":-42,"y":-4110},{"x":-14,"y":-4100},{"x":14,"y":-4120},{"x":42,"y":-4090},{"x":70,"y":-4110},
{"x":-250,"y":-4900},{"x":-222,"y":-4920},{"x":-194,"y":-4890},{"x":-166,"y":-4910},{"x":-138,"y":-4900},{"x":-110,"y":-4930},{"x":-82,"y":-4890},{"x":-54,"y":-4910},{"x":-26,"y":-4900},{"x":2,"y":-4920},{"x":30,"y":-4890},{"x":58,"y":-4910},
{"x":-262,"y":-5700},{"x":-234,"y":-5720},{"x":-206,"y":-5690},{"x":-178,"y":-5710},{"x":-150,"y":-5700},{"x":-122,"y":-5730},{"x":-94,"y":-5690},{"x":-66,"y":-5710},{"x":-38,"y":-5700},{"x":-10,"y":-5720},{"x":18,"y":-5690},{"x":46,"y":-5710},
{"x":-250,"y":-6500},{"x":-222,"y":-6520},{"x":-194,"y":-6490},{"x":-166,"y":-6510},{"x":-138,"y":-6500},{"x":-110,"y":-6530},{"x":-82,"y":-6490},{"x":-54,"y":-6510},{"x":-26,"y":-6500},{"x":2,"y":-6520},{"x":30,"y":-6490},
{"x":-238,"y":-7300},{"x":-210,"y":-7320},{"x":-182,"y":-7290},{"x":-154,"y":-7310},{"x":-126,"y":-7300},{"x":-98,"y":-7330},{"x":-70,"y":-7290},{"x":-42,"y":-7310},{"x":-14,"y":-7300},{"x":14,"y":-7320},
{"x":-250,"y":-8100},{"x":-222,"y":-8120},{"x":-194,"y":-8090},{"x":-166,"y":-8110},{"x":-138,"y":-8100},{"x":-110,"y":-8130},{"x":-82,"y":-8090},{"x":-54,"y":-8110},{"x":-26,"y":-8100},{"x":2,"y":-8120}],
"rc":[{"x":-90,"y":1500},{"x":-73,"y":1480},{"x":-56,"y":1500},{"x":-39,"y":1490},{"x":-22,"y":1500},{"x":-5,"y":1480},{"x":12,"y":1500},{"x":29,"y":1490},{"x":46,"y":1500},{"x":63,"y":1480},
{"x":-122,"y":1300},{"x":-105,"y":1280},{"x":-88,"y":1310},{"x":-71,"y":1290},{"x":-54,"y":1300},{"x":-37,"y":1280},{"x":-20,"y":1310},{"x":-3,"y":1290},{"x":14,"y":1300},{"x":31,"y":1280},{"x":48,"y":1310},{"x":68,"y":1290},
{"x":-160,"y":1100},{"x":-143,"y":1080},{"x":-126,"y":1110},{"x":-109,"y":1090},{"x":-92,"y":1100},{"x":-75,"y":1080},{"x":-58,"y":1110},{"x":-41,"y":1090},{"x":-24,"y":1100},{"x":-7,"y":1080},{"x":10,"y":1110},{"x":27,"y":1090},{"x":44,"y":1100},{"x":61,"y":1080},{"x":75,"y":1110},
{"x":-200,"y":900},{"x":-183,"y":880},{"x":-166,"y":910},{"x":-149,"y":890},{"x":-132,"y":900},{"x":-115,"y":880},{"x":-98,"y":910},{"x":-81,"y":890},{"x":-64,"y":900},{"x":-47,"y":880},{"x":-30,"y":910},{"x":-13,"y":890},{"x":4,"y":900},{"x":21,"y":880},{"x":38,"y":910},{"x":55,"y":890},{"x":72,"y":900},{"x":82,"y":880},
{"x":-235,"y":700},{"x":-218,"y":680},{"x":-201,"y":710},{"x":-184,"y":690},{"x":-167,"y":700},{"x":-150,"y":680},{"x":-133,"y":710},{"x":-116,"y":690},{"x":-99,"y":700},{"x":-82,"y":680},{"x":-65,"y":710},{"x":-48,"y":690},{"x":-31,"y":700},{"x":-14,"y":680},{"x":3,"y":710},{"x":20,"y":690},{"x":37,"y":700},{"x":54,"y":680},{"x":71,"y":710},{"x":85,"y":690},
{"x":-250,"y":500},{"x":-233,"y":480},{"x":-216,"y":510},{"x":-199,"y":490},{"x":-182,"y":500},{"x":-165,"y":480},{"x":-148,"y":510},{"x":-131,"y":490},{"x":-114,"y":500},{"x":-97,"y":480},{"x":-80,"y":510},{"x":-63,"y":490},{"x":-46,"y":500},{"x":-29,"y":480},{"x":-12,"y":510},{"x":5,"y":490},{"x":22,"y":500},{"x":39,"y":480},{"x":56,"y":510},{"x":73,"y":490},{"x":87,"y":500},
{"x":-262,"y":300},{"x":-245,"y":280},{"x":-228,"y":310},{"x":-211,"y":290},{"x":-194,"y":300},{"x":-177,"y":280},{"x":-160,"y":310},{"x":-143,"y":290},{"x":-126,"y":300},{"x":-109,"y":280},{"x":-92,"y":310},{"x":-75,"y":290},{"x":-58,"y":300},{"x":-41,"y":280},{"x":-24,"y":310},{"x":-7,"y":290},{"x":10,"y":300},{"x":27,"y":280},{"x":44,"y":310},{"x":61,"y":290},{"x":78,"y":300},{"x":87,"y":280},
{"x":-268,"y":100},{"x":-251,"y":80},{"x":-234,"y":110},{"x":-217,"y":90},{"x":-200,"y":100},{"x":-183,"y":80},{"x":-166,"y":110},{"x":-149,"y":90},{"x":-132,"y":100},{"x":-115,"y":80},{"x":-98,"y":110},{"x":-81,"y":90},{"x":-64,"y":100},{"x":-47,"y":80},{"x":-30,"y":110},{"x":-13,"y":90},{"x":4,"y":100},{"x":21,"y":80},{"x":38,"y":110},{"x":55,"y":90},{"x":72,"y":100},{"x":85,"y":80},
{"x":-262,"y":-100},{"x":-245,"y":-120},{"x":-228,"y":-90},{"x":-211,"y":-110},{"x":-194,"y":-100},{"x":-177,"y":-120},{"x":-160,"y":-90},{"x":-143,"y":-110},{"x":-126,"y":-100},{"x":-109,"y":-120},{"x":-92,"y":-90},{"x":-75,"y":-110},{"x":-58,"y":-100},{"x":-41,"y":-120},{"x":-24,"y":-90},{"x":-7,"y":-110},{"x":10,"y":-100},{"x":27,"y":-120},{"x":44,"y":-90},{"x":61,"y":-110},{"x":78,"y":-100},
{"x":-246,"y":-300},{"x":-229,"y":-320},{"x":-212,"y":-290},{"x":-195,"y":-310},{"x":-178,"y":-300},{"x":-161,"y":-320},{"x":-144,"y":-290},{"x":-127,"y":-310},{"x":-110,"y":-300},{"x":-93,"y":-320},{"x":-76,"y":-290},{"x":-59,"y":-310},{"x":-42,"y":-300},{"x":-25,"y":-320},{"x":-8,"y":-290},{"x":9,"y":-310},{"x":26,"y":-300},{"x":43,"y":-320},{"x":60,"y":-290},{"x":77,"y":-310},
{"x":-228,"y":-500},{"x":-211,"y":-520},{"x":-194,"y":-490},{"x":-177,"y":-510},{"x":-160,"y":-500},{"x":-143,"y":-520},{"x":-126,"y":-490},{"x":-109,"y":-510},{"x":-92,"y":-500},{"x":-75,"y":-520},{"x":-58,"y":-490},{"x":-41,"y":-510},{"x":-24,"y":-500},{"x":-7,"y":-520},{"x":10,"y":-490},{"x":27,"y":-510},{"x":44,"y":-500},{"x":61,"y":-520},{"x":75,"y":-490},
{"x":-215,"y":-700},{"x":-198,"y":-720},{"x":-181,"y":-690},{"x":-164,"y":-710},{"x":-147,"y":-700},{"x":-130,"y":-720},{"x":-113,"y":-690},{"x":-96,"y":-710},{"x":-79,"y":-700},{"x":-62,"y":-720},{"x":-45,"y":-690},{"x":-28,"y":-710},{"x":-11,"y":-700},{"x":6,"y":-720},{"x":23,"y":-690},{"x":40,"y":-710},{"x":57,"y":-700},{"x":70,"y":-720},
{"x":-195,"y":-900},{"x":-178,"y":-920},{"x":-161,"y":-890},{"x":-144,"y":-910},{"x":-127,"y":-900},{"x":-110,"y":-920},{"x":-93,"y":-890},{"x":-76,"y":-910},{"x":-59,"y":-900},{"x":-42,"y":-920},{"x":-25,"y":-890},{"x":-8,"y":-910},{"x":9,"y":-900},{"x":26,"y":-920},{"x":43,"y":-890},{"x":60,"y":-910},
{"x":-168,"y":-1100},{"x":-151,"y":-1120},{"x":-134,"y":-1090},{"x":-117,"y":-1110},{"x":-100,"y":-1100},{"x":-83,"y":-1120},{"x":-66,"y":-1090},{"x":-49,"y":-1110},{"x":-32,"y":-1100},{"x":-15,"y":-1120},{"x":2,"y":-1090},{"x":19,"y":-1110},{"x":36,"y":-1100},{"x":53,"y":-1120},{"x":65,"y":-1090},
{"x":-140,"y":-1300},{"x":-123,"y":-1320},{"x":-106,"y":-1290},{"x":-89,"y":-1310},{"x":-72,"y":-1300},{"x":-55,"y":-1320},{"x":-38,"y":-1290},{"x":-21,"y":-1310},{"x":-4,"y":-1300},{"x":13,"y":-1320},{"x":30,"y":-1290},{"x":47,"y":-1310},{"x":60,"y":-1300},
{"x":-122,"y":-1500},{"x":-105,"y":-1520},{"x":-88,"y":-1490},{"x":-71,"y":-1510},{"x":-54,"y":-1500},{"x":-37,"y":-1520},{"x":-20,"y":-1490},{"x":-3,"y":-1510},{"x":14,"y":-1500},{"x":31,"y":-1520},{"x":48,"y":-1490},{"x":58,"y":-1510},
{"x":-104,"y":-1700},{"x":-87,"y":-1720},{"x":-70,"y":-1690},{"x":-53,"y":-1710},{"x":-36,"y":-1700},{"x":-19,"y":-1720},{"x":-2,"y":-1690},{"x":15,"y":-1710},{"x":32,"y":-1700},{"x":49,"y":-1720},{"x":55,"y":-1690},
{"x":-83,"y":-1900},{"x":-66,"y":-1920},{"x":-49,"y":-1890},{"x":-32,"y":-1910},{"x":-15,"y":-1900},{"x":2,"y":-1920},{"x":19,"y":-1890},{"x":36,"y":-1910},{"x":53,"y":-1900},
{"x":-64,"y":-2100},{"x":-47,"y":-2120},{"x":-30,"y":-2090},{"x":-13,"y":-2110},{"x":4,"y":-2100},{"x":21,"y":-2120},{"x":38,"y":-2090},{"x":50,"y":-2110},
{"x":-48,"y":-2300},{"x":-31,"y":-2320},{"x":-14,"y":-2290},{"x":3,"y":-2310},{"x":20,"y":-2300},{"x":37,"y":-2320},{"x":47,"y":-2290},
{"x":-35,"y":-2500},{"x":-18,"y":-2520},{"x":-1,"y":-2490},{"x":16,"y":-2510},{"x":33,"y":-2500},{"x":44,"y":-2520},
{"x":-24,"y":-2700},{"x":-7,"y":-2720},{"x":10,"y":-2690},{"x":27,"y":-2710},{"x":38,"y":-2700},
{"x":-14,"y":-2900},{"x":3,"y":-2920},{"x":20,"y":-2890},{"x":28,"y":-2910}],
"ro":[{"x":-516,"y":500},{"x":-512,"y":350},{"x":-466,"y":-575},{"x":-458,"y":-515},{"x":-426,"y":-655},{"x":-415,"y":-415},{"x":-428,"y":70},{"x":-391,"y":640},{"x":-397,"y":-170},{"x":-384,"y":-210},{"x":-369,"y":255},{"x":-372,"y":300},{"x":-366,"y":-515},{"x":-354,"y":-360},{"x":-338,"y":380},{"x":-334,"y":-820},{"x":-338,"y":-210},{"x":-312,"y":0},{"x":-307,"y":615},{"x":-272,"y":1050},{"x":-302,"y":-515},{"x":-285,"y":-300},{"x":-290,"y":-100},{"x":-259,"y":500},{"x":-220,"y":1410},{"x":-193,"y":1310},{"x":-205,"y":1100},{"x":-170,"y":1100},{"x":-268,"y":-600},{"x":-254,"y":-1020},{"x":-246,"y":-1330},{"x":-223,"y":-1430},{"x":-180,"y":-1300},{"x":-160,"y":-1600},{"x":-149,"y":-2240},{"x":-201,"y":-2545},{"x":-110,"y":-2580},{"x":-85,"y":-2750},{"x":-50,"y":-2900},{"x":-15,"y":-3000},{"x":20,"y":-3100},{"x":55,"y":-3250},{"x":-294,"y":-3860},{"x":-237,"y":-3950},{"x":-209,"y":-3860},{"x":-167,"y":-4060},{"x":-141,"y":-3640},{"x":-144,"y":-4250},{"x":-120,"y":-3900},{"x":-125,"y":-4300},{"x":-110,"y":-4500},{"x":-90,"y":-3900},{"x":-85,"y":-4800},{"x":-75,"y":-5100},{"x":-60,"y":-4000},{"x":-55,"y":-4500},{"x":-40,"y":-3700},{"x":-38,"y":-4300},{"x":-25,"y":-3900},{"x":-22,"y":-4700},{"x":-10,"y":-3700},{"x":-8,"y":-4300},{"x":5,"y":-3500},{"x":5,"y":-4000},{"x":8,"y":-4500},{"x":20,"y":-3800},{"x":22,"y":-4200},{"x":35,"y":-4000},{"x":50,"y":-4200},{"x":65,"y":-4200},{"x":-30,"y":-5300},{"x":-15,"y":-5100},{"x":-5,"y":-5500},{"x":5,"y":-5000},{"x":12,"y":-5600},{"x":-223,"y":-6190},{"x":-168,"y":-6190},{"x":-127,"y":-5990},{"x":-110,"y":-5900},{"x":-100,"y":-6000},{"x":-85,"y":-6300},{"x":-60,"y":-6200},{"x":-45,"y":-6050},{"x":-25,"y":-6100},{"x":-10,"y":-6000},{"x":10,"y":-5900},{"x":20,"y":-6150},{"x":25,"y":-6300},{"x":49,"y":-6500},{"x":57,"y":-6300},{"x":76,"y":-6600},{"x":97,"y":-6500},
{"x":-245,"y":-600},{"x":-225,"y":-800},{"x":-210,"y":-1000},{"x":-195,"y":-1200},{"x":-175,"y":-1400},{"x":-150,"y":-1550},{"x":-135,"y":-1750},{"x":-115,"y":-1900},{"x":-100,"y":-2050},{"x":-85,"y":-2250},{"x":-70,"y":-2400},{"x":-60,"y":-2600},{"x":-45,"y":-2750},{"x":-35,"y":-2950},{"x":-20,"y":-3200},{"x":0,"y":-3300},{"x":15,"y":-3400},{"x":-280,"y":-300},{"x":-295,"y":150},{"x":-290,"y":400},{"x":-275,"y":650},{"x":-250,"y":900},{"x":-225,"y":1150},{"x":-190,"y":1300},{"x":-150,"y":1400},{"x":-120,"y":1480},{"x":80,"y":1200},{"x":92,"y":600},{"x":95,"y":200},{"x":92,"y":-300},{"x":85,"y":-800},{"x":75,"y":-1300},{"x":68,"y":-1800},{"x":62,"y":-2300},{"x":55,"y":-2700},{"x":45,"y":-3100},{"x":30,"y":-3500}]
},
"hconcat":[
{"width":530,"height":411,"layer":[
{"data":{"name":"lb"},"mark":{"type":"point","filled":false,"strokeWidth":1.7,"size":125,"opacity":1},"encoding":{"x":{"field":"x","type":"quantitative","title":"Feature 1","scale":{"domain":[-200,1200],"nice":false},"axis":{"values":[-200,0,200,400,600,800,1000,1200],"format":"d","labelPadding":14,"titlePadding":11}},"y":{"field":"y","type":"quantitative","title":"Feature 2","scale":{"domain":[-5000,40000],"nice":false},"axis":{"values":[-5000,0,5000,10000,15000,20000,25000,30000,35000,40000],"labelExpr":"replace(format(datum.value/10000,'~g'),'-','−')","labelPadding":13,"titlePadding":12}},"color":{"datum":"Walking Forward","type":"nominal","scale":{"domain":["Walking Forward","Walking Upstairs"],"range":["#2f4f9f","#ee2224"]},"legend":{"legendX":-4,"legendY":497}},"shape":{"datum":"Walking Forward","type":"nominal","scale":{"domain":["Walking Forward","Walking Upstairs"],"range":["M-1,0L1,0M0,-1L0,1M-.72,-.72L.72,.72M-.72,.72L.72,-.72","M-1,0L1,0M0,-1L0,1"]},"legend":{"legendX":-4,"legendY":497}}}},
{"data":{"name":"lbc"},"mark":{"type":"point","filled":false,"strokeWidth":3,"size":110,"opacity":1},"encoding":{"x":{"field":"x","type":"quantitative"},"y":{"field":"y","type":"quantitative"},"color":{"datum":"Walking Forward","type":"nominal"},"shape":{"datum":"Walking Forward","type":"nominal"}}},
{"data":{"name":"lr"},"mark":{"type":"point","filled":false,"strokeWidth":2.6,"size":110,"opacity":1},"encoding":{"x":{"field":"x","type":"quantitative"},"y":{"field":"y","type":"quantitative"},"color":{"datum":"Walking Upstairs","type":"nominal"},"shape":{"datum":"Walking Upstairs","type":"nominal"}}},
{"data":{"values":[{"x":-200,"y":40000,"t":"×10"}]},"mark":{"type":"text","font":"Liberation Serif","fontSize":20.5,"align":"right","dx":-4,"dy":-20,"color":"#222222"},"encoding":{"x":{"field":"x","type":"quantitative"},"y":{"field":"y","type":"quantitative"},"text":{"field":"t"}}},
{"data":{"values":[{"x":-200,"y":40000,"t":"4"}]},"mark":{"type":"text","font":"Liberation Serif","fontSize":20.5,"align":"left","dx":-3,"dy":-27,"color":"#222222"},"encoding":{"x":{"field":"x","type":"quantitative"},"y":{"field":"y","type":"quantitative"},"text":{"field":"t"}}}
]},
{"width":530,"height":411,"layer":[
{"data":{"name":"rb"},"mark":{"type":"point","filled":false,"strokeWidth":1.7,"size":125,"opacity":1},"encoding":{"x":{"field":"x","type":"quantitative","title":"Feature 1","scale":{"domain":[-1200,200],"nice":false},"axis":{"values":[-1200,-1000,-800,-600,-400,-200,0,200],"format":"d","labelPadding":14,"titlePadding":11}},"y":{"field":"y","type":"quantitative","title":"Feature 2","scale":{"domain":[-20000,5000],"nice":false},"axis":{"values":[-20000,-15000,-10000,-5000,0,5000],"format":"d","labelPadding":13,"titlePadding":11}},"color":{"datum":"Walking Forward","type":"nominal","scale":{"domain":["Walking Forward","Walking Upstairs"],"range":["#2f4f9f","#ee2224"]},"legend":{"legendX":-4,"legendY":497}},"shape":{"datum":"Walking Forward","type":"nominal","scale":{"domain":["Walking Forward","Walking Upstairs"],"range":["M-1,0L1,0M0,-1L0,1M-.72,-.72L.72,.72M-.72,.72L.72,-.72","M-1,0L1,0M0,-1L0,1"]},"legend":{"legendX":-4,"legendY":497}}}},
{"data":{"name":"rbc"},"mark":{"type":"point","filled":false,"strokeWidth":3,"size":110,"opacity":1},"encoding":{"x":{"field":"x","type":"quantitative"},"y":{"field":"y","type":"quantitative"},"color":{"datum":"Walking Forward","type":"nominal"},"shape":{"datum":"Walking Forward","type":"nominal"}}},
{"data":{"name":"rc"},"mark":{"type":"point","filled":false,"strokeWidth":2.8,"size":90,"opacity":1},"encoding":{"x":{"field":"x","type":"quantitative"},"y":{"field":"y","type":"quantitative"},"color":{"datum":"Walking Upstairs","type":"nominal"},"shape":{"datum":"Walking Upstairs","type":"nominal"}}},
{"data":{"name":"ro"},"mark":{"type":"point","filled":false,"strokeWidth":1.7,"size":110,"opacity":1},"encoding":{"x":{"field":"x","type":"quantitative"},"y":{"field":"y","type":"quantitative"},"color":{"datum":"Walking Upstairs","type":"nominal"},"shape":{"datum":"Walking Upstairs","type":"nominal"}}}
]}
]}
